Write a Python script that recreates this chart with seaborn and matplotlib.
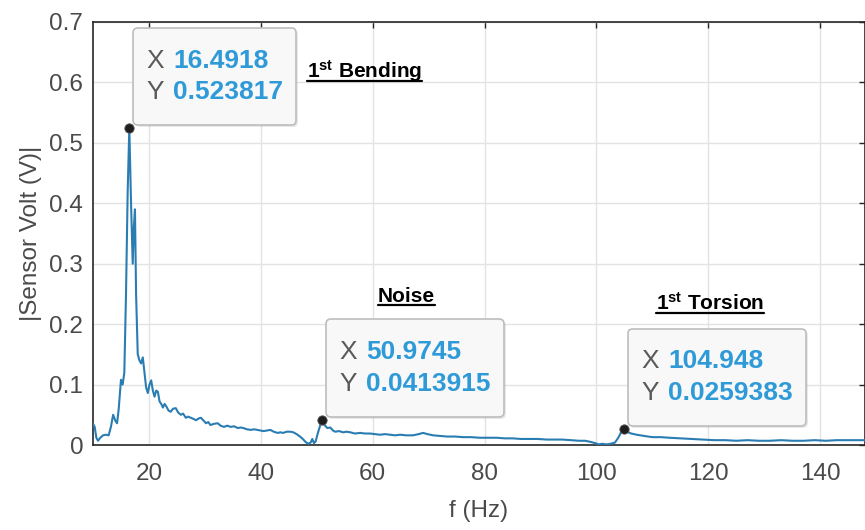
import numpy as np
import pandas as pd
import matplotlib
matplotlib.use("Agg")
import matplotlib.pyplot as plt
import seaborn as sns
from matplotlib.offsetbox import TextArea, HPacker, VPacker, AnnotationBbox, DrawingArea
from matplotlib.lines import Line2D
from matplotlib.transforms import IdentityTransform
import matplotlib.patheffects as pe

# ---------------- data ----------------
freq = [10.0, 10.3, 10.6, 10.9, 11.3, 11.8, 12.3, 12.8, 13.2, 13.6, 14.0, 14.3, 14.6, 15.0,
        15.3, 15.6, 15.9, 16.2, 16.4918, 16.8, 17.1, 17.3, 17.5, 17.7, 18.0, 18.3, 18.6, 18.9,
        19.2, 19.5, 19.8, 20.1, 20.4, 20.7, 21.0, 21.3, 21.6, 21.9, 22.2, 22.5, 22.8, 23.1,
        23.5, 23.9, 24.3, 24.8, 25.2, 25.7, 26.1, 26.6, 27.0, 27.5, 28.0, 28.4, 28.9, 29.3,
        29.8, 30.2, 30.6, 31.0, 31.6, 32.3, 32.8, 33.4, 34.0, 34.6, 35.2, 35.9, 36.4, 36.9,
        37.5, 38.2, 38.8, 39.4, 40.0, 40.5, 41.1, 41.7, 42.3, 43.0, 43.5, 44.0, 44.6, 45.3,
        45.8, 46.4, 47.0, 47.5, 48.0, 48.5, 48.9, 49.2, 49.5, 49.8, 50.2, 50.6, 50.9745, 51.4,
        51.9, 52.4, 52.9, 53.3, 54.0, 54.7, 55.3, 56.0, 56.8, 57.8, 58.6, 59.5, 60.4, 61.3,
        62.2, 63.1, 64.0, 64.9, 66.0, 67.2, 68.2, 69.0, 69.8, 70.8, 72.0, 73.3, 74.7, 76.1,
        77.6, 79.1, 80.6, 82.2, 83.6, 85.0, 86.5, 88.0, 89.5, 91.1, 92.5, 93.9, 95.4, 96.9,
        98.0, 99.0, 99.8, 100.4, 101.0, 101.8, 102.5, 103.3, 103.9, 104.4, 104.948, 105.5,
        106.2, 107.2, 108.5, 110.0, 111.5, 113.0, 115.0, 117.0, 119.0, 121.0, 123.0, 125.0,
        127.0, 129.0, 131.0, 133.0, 135.0, 137.0, 139.0, 141.0, 143.0, 145.0, 148.0]
amp = [0.035, 0.030, 0.012, 0.007, 0.012, 0.016, 0.017, 0.016, 0.030, 0.050, 0.040, 0.036, 0.060, 0.108,
       0.100, 0.120, 0.250, 0.420, 0.523817, 0.400, 0.300, 0.360, 0.390, 0.250, 0.150, 0.140, 0.135, 0.145,
       0.120, 0.095, 0.086, 0.100, 0.107, 0.090, 0.080, 0.090, 0.088, 0.072, 0.068, 0.062, 0.068, 0.064,
       0.057, 0.055, 0.060, 0.061, 0.054, 0.050, 0.052, 0.045, 0.047, 0.045, 0.043, 0.041, 0.044, 0.045,
       0.040, 0.036, 0.038, 0.033, 0.035, 0.036, 0.032, 0.030, 0.032, 0.030, 0.031, 0.028, 0.029, 0.028,
       0.026, 0.025, 0.026, 0.025, 0.024, 0.023, 0.024, 0.025, 0.022, 0.020, 0.021, 0.020, 0.022, 0.022,
       0.021, 0.018, 0.014, 0.010, 0.005, 0.002, 0.004, 0.010, 0.003, 0.006, 0.020, 0.032, 0.0413915, 0.033,
       0.028, 0.029, 0.024, 0.022, 0.023, 0.021, 0.022, 0.021, 0.019, 0.020, 0.019, 0.019, 0.018, 0.017,
       0.018, 0.017, 0.016, 0.017, 0.016, 0.016, 0.018, 0.020, 0.018, 0.016, 0.015, 0.014, 0.014, 0.013,
       0.013, 0.012, 0.012, 0.012, 0.011, 0.011, 0.010, 0.010, 0.010, 0.009, 0.009, 0.009, 0.008, 0.007,
       0.007, 0.005, 0.003, 0.001, 0.002, 0.001, 0.002, 0.004, 0.012, 0.021, 0.0259383, 0.022,
       0.019, 0.017, 0.015, 0.013, 0.013, 0.012, 0.011, 0.010, 0.009, 0.008, 0.008, 0.007,
       0.008, 0.007, 0.007, 0.008, 0.007, 0.007, 0.008, 0.007, 0.008, 0.008, 0.008]

tip_x = [16.4918, 50.9745, 104.948]
tip_y = [0.523817, 0.0413915, 0.0259383]
tip_x_text = ["16.4918", "50.9745", "104.948"]
tip_y_text = ["0.523817", "0.0413915", "0.0259383"]

mode_labels = [r"$\mathbf{1^{st}}$ Bending", "Noise", r"$\mathbf{1^{st}}$ Torsion"]

x_ticks = [20, 40, 60, 80, 100, 120, 140]
y_ticks = [0, 0.1, 0.2, 0.3, 0.4, 0.5, 0.6, 0.7]
y_tick_labels = ["0", "0.1", "0.2", "0.3", "0.4", "0.5", "0.6", "0.7"]
x_label = "f (Hz)"
y_label = "|Sensor Volt (V)|"

# ---------------- style ----------------
W, H = 865, 530
LINE = "#2a7db3"
AX_COL = "#262626"
TICK_COL = "#4a4a4a"
TIP_BLUE = "#2f9ad8"
TIP_GRAY = "#5a5a5a"

sns.set_theme(style="white")
plt.rcParams['font.family'] = ['Liberation Sans', 'DejaVu Sans']
plt.rcParams['mathtext.fontset'] = 'custom'
plt.rcParams['mathtext.rm'] = 'Liberation Sans'
plt.rcParams['mathtext.bf'] = 'Liberation Sans:bold'

fig = plt.figure(figsize=(W / 100, H / 100), dpi=100)
ax = fig.add_axes([93 / W, 85 / H, 1 - 93 / W, (445 - 22) / H])

df = pd.DataFrame({"f": freq, "v": amp})
sns.lineplot(data=df, x="f", y="v", ax=ax, color=LINE, lw=1.5,
             sort=False, estimator=None, zorder=3)

ax.set_xlim(10, 148)
ax.set_ylim(0, 0.7)
ax.set_xticks(x_ticks)
ax.set_xticklabels([str(t) for t in x_ticks])
ax.set_yticks(y_ticks)
ax.set_yticklabels(y_tick_labels)

ax.grid(True, color="#e3e3e3", lw=1.0, zorder=0)
ax.set_axisbelow(True)
for s in ax.spines.values():
    s.set_color(AX_COL)
    s.set_linewidth(1.2)
    s.set_visible(True)

ax.tick_params(axis="both", which="both", direction="in", length=4.5, width=1.0,
               color=AX_COL, top=True, right=True, labelsize=17.5, labelcolor=TICK_COL)
ax.tick_params(axis="x", pad=13)
ax.tick_params(axis="y", pad=7)

ax.set_xlabel(x_label, fontsize=17.5, color=TICK_COL, labelpad=11)
ax.set_ylabel(y_label, fontsize=17.5, color=TICK_COL, labelpad=5)

# data tip markers
sns.scatterplot(x=tip_x, y=tip_y, ax=ax, color="#1e1e1e", s=45, edgecolor="#555",
                linewidth=0.6, zorder=6, legend=False)

# data tip boxes
for xv, yv, xs, ys in zip(tip_x, tip_y, tip_x_text, tip_y_text):
    rows = [DrawingArea(1, 0)]
    for lab, val in (("X", xs), ("Y", ys)):
        rows.append(HPacker(children=[
            TextArea(lab, textprops=dict(color=TIP_GRAY, fontsize=19)),
            TextArea(val, textprops=dict(color=TIP_BLUE, fontsize=19, fontweight="bold")),
        ], align="baseline", pad=0, sep=6.5))
    rows.append(DrawingArea(1, 0))
    box = VPacker(children=rows, align="left", pad=0, sep=5.5)
    ab = AnnotationBbox(box, (xv, yv), xycoords="data", xybox=(12.5, 12),
                        boxcoords="offset points", box_alignment=(0, 0),
                        frameon=True, fontsize=10,
                        bboxprops=dict(boxstyle="round,pad=0.95,rounding_size=0.35",
                                       facecolor="#f8f8f8", edgecolor="#bdbdbd", lw=1.2),
                        zorder=7)
    ab.patch.set_path_effects([pe.SimplePatchShadow(offset=(1.5, -1.5), alpha=0.12),
                               pe.Normal()])
    ax.add_artist(ab)

# mode labels (figure pixel positions, baseline)
label_pos = [(307, 78), (378, 302), (656, 310)]
texts = []
for lab, (px, py) in zip(mode_labels, label_pos):
    t = fig.text(px / W, (H - py) / H, lab, fontsize=15, fontweight="bold",
                 color="black", ha="left", va="baseline")
    texts.append((t, py))

fig.canvas.draw()
renderer = fig.canvas.get_renderer()
for t, py in texts:
    bb = t.get_window_extent(renderer)
    yline = H - py - 3
    fig.add_artist(Line2D([bb.x0, bb.x1], [yline, yline], transform=IdentityTransform(),
                          color="black", lw=1.6))

fig.savefig("out.png", dpi=100)
